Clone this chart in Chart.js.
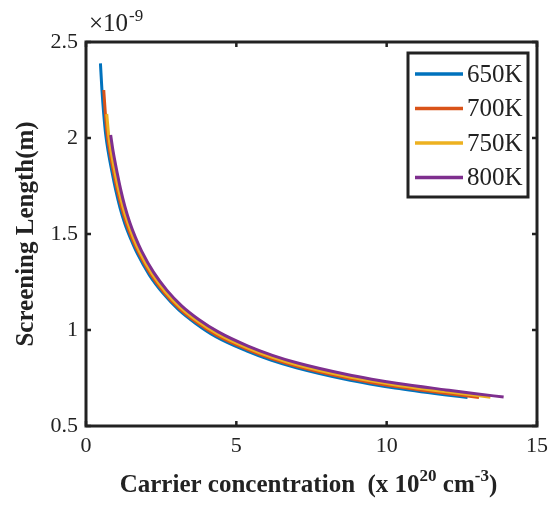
<!DOCTYPE html>
<html lang="en">
<head>
    <meta charset="UTF-8"/>
    <title>Screening Length vs Carrier Concentration</title>
    <script src="https://cdn.jsdelivr.net/npm/chart.js"></script>
    <style>
        html, body {
            margin: 0;
            padding: 0;
            background: #fff;
            overflow: hidden;
        }
        .chart-box {
            position: relative;
            width: 555px;
            height: 512px;
        }
    </style>
</head>
<body>
<div class="chart-box">
    <canvas id="screeningChart"></canvas>
</div>

<script>
    // carrier concentration (x 10^20 cm^-3) and screening length (x 10^-9 m)
    const conc650 = [0.48, 0.53, 0.59, 0.66, 0.74, 0.88, 0.99, 1.13, 1.29, 1.49, 1.70, 2.11, 2.58, 3.07, 3.65, 4.32, 5.34, 6.15, 7.00, 8.63, 9.45, 10.28, 11.92, 12.69];
    const len650  = [2.389, 2.25, 2.125, 2.012, 1.928, 1.811, 1.728, 1.638, 1.555, 1.474, 1.400, 1.286, 1.188, 1.107, 1.034, 0.965, 0.891, 0.843, 0.803, 0.743, 0.719, 0.698, 0.663, 0.648];

    const conc700 = [0.59, 0.645, 0.71, 0.79, 0.93, 1.04, 1.18, 1.34, 1.53, 1.75, 2.15, 2.61, 3.10, 3.68, 4.34, 5.36, 6.17, 7.01, 8.65, 9.47, 10.30, 11.94, 13.07];
    const len700  = [2.25, 2.125, 2.013, 1.929, 1.812, 1.730, 1.640, 1.557, 1.477, 1.403, 1.290, 1.193, 1.113, 1.040, 0.973, 0.899, 0.851, 0.811, 0.751, 0.727, 0.706, 0.671, 0.649];

    const conc750 = [0.69, 0.755, 0.835, 0.975, 1.085, 1.23, 1.39, 1.58, 1.79, 2.195, 2.65, 3.14, 3.71, 4.37, 5.37, 6.18, 7.02, 8.66, 9.48, 10.31, 11.95, 13.45];
    const len750  = [2.125, 2.015, 1.930, 1.814, 1.732, 1.642, 1.560, 1.480, 1.406, 1.294, 1.198, 1.118, 1.047, 0.981, 0.907, 0.859, 0.819, 0.759, 0.735, 0.714, 0.679, 0.650];

    const conc800 = [0.82, 0.90, 1.04, 1.15, 1.29, 1.45, 1.64, 1.85, 2.25, 2.70, 3.18, 3.75, 4.40, 5.39, 6.20, 7.04, 8.68, 9.50, 10.33, 11.97, 12.90, 13.89];
    const len800  = [2.016, 1.932, 1.816, 1.734, 1.645, 1.563, 1.484, 1.411, 1.300, 1.205, 1.126, 1.055, 0.990, 0.916, 0.868, 0.828, 0.768, 0.744, 0.723, 0.688, 0.669, 0.651];

    const seriesLabels = ['650K', '700K', '750K', '800K'];
    const seriesColors = ['#0072BD', '#D95319', '#EDB120', '#7E2F8E'];

    const xTicks = [0, 5, 10, 15];
    const yTicks = [0.5, 1, 1.5, 2, 2.5];

    const SERIF = "'Liberation Serif', 'DejaVu Serif', serif";
    const INK = '#222';

    function toPoints(xs, ys) {
        return xs.map((x, i) => ({ x: x, y: ys[i] }));
    }

    const allConc = [conc650, conc700, conc750, conc800];
    const allLen = [len650, len700, len750, len800];

    // 800K is drawn last so it sits on top of the others
    const datasets = seriesLabels.map((label, i) => ({
        label: label,
        data: toPoints(allConc[i], allLen[i]),
        borderColor: seriesColors[i],
        backgroundColor: seriesColors[i],
        borderWidth: 3,
        pointRadius: 0,
        fill: false,
        cubicInterpolationMode: 'monotone',
        order: seriesLabels.length - i
    }));

    // frame, inward ticks, axis titles, exponent and legend
    const matlabLook = {
        id: 'matlabLook',
        afterDraw(chart) {
            const ctx = chart.ctx;
            const area = chart.chartArea;
            const xs = chart.scales.x;
            const ys = chart.scales.y;
            const tick = 5;

            ctx.save();
            ctx.strokeStyle = INK;
            ctx.lineWidth = 2.5;
            ctx.lineCap = 'butt';

            // inward ticks on all four sides
            ctx.beginPath();
            xTicks.forEach(v => {
                const px = xs.getPixelForValue(v);
                ctx.moveTo(px, area.bottom);
                ctx.lineTo(px, area.bottom - tick);
                ctx.moveTo(px, area.top);
                ctx.lineTo(px, area.top + tick);
            });
            yTicks.forEach(v => {
                const py = ys.getPixelForValue(v);
                ctx.moveTo(area.left, py);
                ctx.lineTo(area.left + tick, py);
                ctx.moveTo(area.right, py);
                ctx.lineTo(area.right - tick, py);
            });
            ctx.stroke();

            ctx.lineWidth = 3;
            ctx.strokeRect(area.left, area.top, area.right - area.left, area.bottom - area.top);

            // x10^-9 exponent above the y axis
            ctx.fillStyle = INK;
            ctx.textBaseline = 'alphabetic';
            ctx.textAlign = 'left';
            ctx.font = '25px ' + SERIF;
            ctx.fillText('\u00d710', 89, 31);
            const wExp = ctx.measureText('\u00d710').width;
            ctx.font = '17px ' + SERIF;
            ctx.fillText('-9', 89 + wExp + 1, 21);

            // y axis title
            ctx.save();
            ctx.translate(33, (area.top + area.bottom) / 2);
            ctx.rotate(-Math.PI / 2);
            ctx.textAlign = 'center';
            ctx.font = 'bold 25px ' + SERIF;
            ctx.fillText('Screening Length(m)', 0, 0);
            ctx.restore();

            // x axis title with superscripts
            const pieces = [
                { t: 'Carrier concentration  (x 10', sup: false },
                { t: '20', sup: true },
                { t: ' cm', sup: false },
                { t: '-3', sup: true },
                { t: ')', sup: false }
            ];
            const mainFont = 'bold 25px ' + SERIF;
            const supFont = 'bold 17px ' + SERIF;
            let total = 0;
            pieces.forEach(p => {
                ctx.font = p.sup ? supFont : mainFont;
                p.w = ctx.measureText(p.t).width;
                total += p.w;
            });
            let cx = (area.left + area.right) / 2 - total / 2 - 3;
            const base = 492;
            pieces.forEach(p => {
                ctx.font = p.sup ? supFont : mainFont;
                ctx.fillText(p.t, cx, p.sup ? base - 11 : base);
                cx += p.w;
            });

            // legend box in the upper right corner
            const lg = { left: 408, top: 53, right: 528, bottom: 197 };
            ctx.fillStyle = '#fff';
            ctx.fillRect(lg.left, lg.top, lg.right - lg.left, lg.bottom - lg.top);
            ctx.strokeStyle = INK;
            ctx.lineWidth = 3;
            ctx.strokeRect(lg.left, lg.top, lg.right - lg.left, lg.bottom - lg.top);
            ctx.font = '25px ' + SERIF;
            ctx.textBaseline = 'middle';
            chart.data.datasets.forEach((ds, i) => {
                const y = 74 + i * 34.5;
                ctx.strokeStyle = ds.borderColor;
                ctx.lineWidth = 3.5;
                ctx.beginPath();
                ctx.moveTo(415, y);
                ctx.lineTo(463, y);
                ctx.stroke();
                ctx.fillStyle = INK;
                ctx.fillText(ds.label, 467, y + 1);
            });
            ctx.restore();
        }
    };

    new Chart(document.getElementById('screeningChart').getContext('2d'), {
        type: 'line',
        data: { datasets: datasets },
        options: {
            responsive: true,
            maintainAspectRatio: false,
            animation: false,
            layout: { padding: { left: 0, top: 42, right: 13, bottom: 0 } },
            scales: {
                x: {
                    type: 'linear',
                    min: 0,
                    max: 15,
                    grid: { display: false, drawTicks: false },
                    border: { display: false },
                    afterBuildTicks: scale => { scale.ticks = xTicks.map(v => ({ value: v })); },
                    afterFit: scale => { scale.height = 86; },
                    ticks: {
                        color: INK,
                        padding: 7,
                        maxRotation: 0,
                        font: { family: SERIF, size: 22 },
                        callback: v => String(v)
                    }
                },
                y: {
                    type: 'linear',
                    min: 0.5,
                    max: 2.5,
                    grid: { display: false, drawTicks: false },
                    border: { display: false },
                    afterBuildTicks: scale => { scale.ticks = yTicks.map(v => ({ value: v })); },
                    afterFit: scale => { scale.width = 86; },
                    ticks: {
                        color: INK,
                        padding: 8,
                        font: { family: SERIF, size: 22 },
                        callback: v => String(v)
                    }
                }
            },
            plugins: {
                legend: { display: false },
                tooltip: { enabled: false }
            }
        },
        plugins: [matlabLook]
    });
</script>
</body>
</html>
